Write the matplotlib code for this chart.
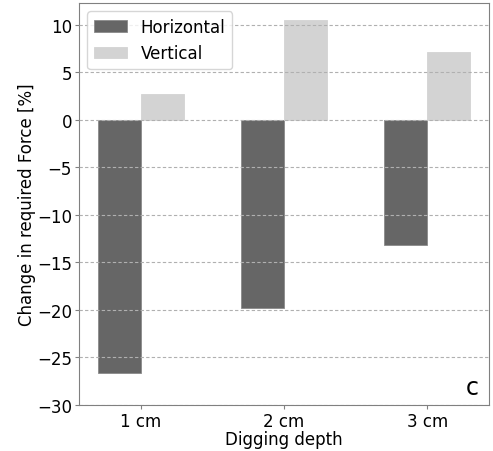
import matplotlib
matplotlib.use("Agg")
import matplotlib.pyplot as plt
import numpy as np

# Cambio porcentual de la fuerza requerida según profundidad de excavación
depths = ["1 cm", "2 cm", "3 cm"]
horizontal = [-26.6, -19.8, -13.2]
vertical = [2.7, 10.5, 7.2]

plt.rcParams['font.size'] = 12

fig, ax = plt.subplots(figsize=(4.93, 4.52), dpi=100)
fig.subplots_adjust(left=0.160, right=0.992, top=0.991, bottom=0.102)

x = np.arange(len(depths))
w = 0.3
ax.bar(x - w/2, horizontal, w, color="#666666", edgecolor="#8a8a8a", linewidth=0.6, label="Horizontal")
ax.bar(x + w/2, vertical, w, color="#d3d3d3", edgecolor="#d3d3d3", linewidth=0.6, label="Vertical")

ax.set_ylim(-30, 12.3)
ax.set_xticks(x)
ax.set_xticklabels(depths)
ax.set_yticks(np.arange(-30, 11, 5))
ax.set_xlabel("Digging depth", labelpad=0)
ax.set_ylabel("Change in required Force [%]", labelpad=1)

ax.set_axisbelow(False)
ax.yaxis.grid(True, linestyle=(0, (3, 2)), color="#b0b0b0", linewidth=0.8)

for sp in ax.spines.values():
    sp.set_color("#808080")
ax.tick_params(color="#808080", length=3, pad=2)

ax.legend(loc="upper left")
ax.text(0.975, 0.015, "c", transform=ax.transAxes, fontsize=17, ha="right", va="bottom")

fig.savefig("out.png", dpi=100)
